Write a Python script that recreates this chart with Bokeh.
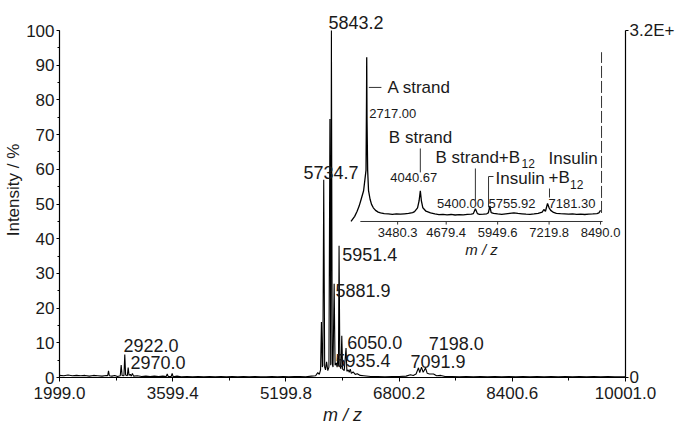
from bokeh.plotting import figure
from bokeh.models import (Range1d, LinearAxis, FixedTicker, SingleIntervalTicker,
                          PrintfTickFormatter, ColumnDataSource)
from bokeh.core.properties import value
from bokeh.embed import file_html
from bokeh.resources import INLINE

# ---------------- data ----------------
# main spectrum (m/z, intensity %)
main_mz = [1999, 2060, 2120, 2180, 2240, 2300, 2360, 2420, 2480, 2540, 2600, 2660, 2680,
           2692, 2704, 2740, 2780, 2820, 2858, 2871, 2884, 2910, 2922, 2934, 2958, 2970,
           2982, 3000, 3014, 3030, 3046, 3100, 3160, 3220, 3280, 3340, 3400, 3460, 3508,
           3522, 3536, 3578, 3592, 3606, 3660, 3720, 3800, 3880, 3960, 4040, 4120, 4200,
           4280, 4360, 4440, 4520, 4600, 4680, 4760, 4840, 4920, 5000, 5080, 5160, 5240,
           5320, 5400, 5480, 5560, 5620, 5650, 5672, 5690, 5702, 5714, 5722, 5734.7, 5748,
           5760, 5775, 5792, 5808, 5822, 5833, 5843.2, 5855, 5866, 5881.9, 5895, 5912, 5924,
           5935.4, 5943, 5951.4, 5963, 5978, 5990, 6002, 6025, 6050, 6062, 6080, 6095, 6110,
           6125, 6150, 6180, 6210, 6250, 6300, 6400, 6500, 6600, 6700, 6800, 6900, 6960,
           7000, 7040, 7074, 7092, 7117, 7140, 7174, 7198, 7230, 7287, 7330, 7390, 7450,
           7550, 7650, 7750, 7850, 7950, 8050, 8150, 8250, 8350, 8450, 8550, 8650, 8750,
           8850, 8950, 9050, 9150, 9250, 9350, 9450, 9550, 9650, 9750, 9850, 10001]
main_int = [0.6, 0.5, 0.7, 0.5, 0.6, 0.5, 0.6, 0.4, 0.6, 0.5, 0.4, 0.6, 0.5,
            1.9, 0.5, 0.4, 0.6, 0.3, 0.5, 3.6, 0.6, 0.5, 6.6, 0.7, 0.5, 2.9,
            0.6, 0.9, 0.4, 1.2, 0.4, 0.5, 0.3, 0.4, 0.3, 0.4, 0.3, 0.4, 0.3,
            1.0, 0.3, 0.3, 1.2, 0.2, 0.4, 0.2, 0.3, 0.2, 0.3, 0.2, 0.3, 0.2,
            0.3, 0.2, 0.3, 0.2, 0.3, 0.2, 0.3, 0.2, 0.2, 0.3, 0.2, 0.3, 0.2,
            0.3, 0.3, 0.2, 0.4, 0.5, 1.4, 0.9, 2.2, 16, 3.0, 3.5, 57, 3.0,
            2.2, 4.5, 2.0, 3.0, 74.5, 3.5, 100, 4.0, 3.0, 27, 3.5, 4.2, 3.0,
            5.6, 3.5, 38, 3.2, 2.5, 12, 2.4, 2.0, 8.5, 1.8, 2.2, 1.5, 2.4,
            1.2, 1.6, 0.9, 1.1, 0.6, 0.5, 0.3, 0.3, 0.2, 0.3, 0.3, 0.4, 0.8,
            0.6, 1.0, 2.8, 1.4, 3.0, 1.5, 2.7, 1.2, 1.0, 1.0, 0.5, 0.6, 0.3,
            0.3, 0.2, 0.3, 0.2, 0.3, 0.2, 0.3, 0.2, 0.3, 0.2, 0.3, 0.2, 0.3,
            0.2, 0.3, 0.2, 0.3, 0.2, 0.3, 0.2, 0.3, 0.2, 0.3, 0.2, 0.2]

# main peak labels (text, anchor m/z of left edge, anchor intensity)
peak_text = ["2922.0", "2970.0", "5734.7", "5843.2", "5951.4", "5881.9",
             "6050.0", "5935.4", "7091.9", "7198.0"]
peak_mz = [2904, 3003, 5449, 5802, 5996, 5901, 6066, 5901, 6961, 7220]
peak_int = [9.1, 4.3, 59, 102.3, 35.4, 25.1, 10.2, 4.8, 4.5, 9.7]

x_ticks = [1999.0, 3599.4, 5199.8, 6800.2, 8400.6, 10001.0]
right_ticks = [0, 3.2]
right_labels = ["0", "3.2E+"]

# inset spectrum (m/z, relative intensity)
inset_mz = [2330, 2420, 2480, 2530, 2580, 2640, 2700, 2712, 2717, 2724, 2740, 2762, 2800,
            2836, 2880, 2935, 3000, 3058, 3150, 3250, 3350, 3450, 3550, 3650, 3750, 3850,
            3898, 3972, 4010, 4040.67, 4067, 4103, 4180, 4292, 4400, 4500, 4600, 4700,
            4800, 4900, 5000, 5100, 5200, 5300, 5350, 5400, 5450, 5500, 5600, 5680, 5720,
            5755.92, 5790, 5850, 5950, 6050, 6150, 6250, 6350, 6450, 6550, 6650, 6750,
            6850, 6950, 7050, 7090, 7130, 7181.3, 7220, 7260, 7330, 7400, 7500, 7600, 7700,
            7800, 7900, 8000, 8100, 8200, 8300, 8400, 8450, 8490]
inset_int = [0, 3, 6, 9, 13, 18, 30, 70, 96, 60, 30, 18, 13,
             10, 8, 6.5, 5.5, 5, 4.6, 4.4, 4.2, 4.4, 4.3, 4.5, 4.7, 5.2,
             5.8, 8, 12, 18, 12, 8, 6, 5, 4.4, 4.0, 4.2, 3.9,
             4.1, 3.8, 4.0, 3.9, 4.2, 4.3, 4.6, 7.5, 4.6, 4.2, 4.3, 4.5, 5.0,
             9, 5.2, 4.8, 4.4, 4.2, 4.5, 4.8, 5.0, 4.7, 4.5, 4.3, 4.2,
             4.4, 4.8, 5.5, 7.0, 6.0, 10.5, 8.0, 6.5, 5.3, 4.8, 4.6, 4.5, 4.3,
             4.4, 4.2, 4.3, 4.1, 4.3, 4.4, 4.6, 5.0, 6.5]

inset_ticks = [3480.3, 4679.4, 5949.6, 7219.8, 8490.0]
inset_tick_labels = ["3480.3", "4679.4", "5949.6", "7219.8", "8490.0"]
inset_axis_span = [2560, 8540]
inset_edge_mz = 8515
inset_edge_span = [5, 99]

# inset annotations
ann_text = ["A strand", "B strand", "B strand+B", "Insulin", "Insulin", "+B"]
ann_mz = [3231, 4045, 4416, 5897, 7206, 7206]
ann_int = [78.4, 49.1, 37.6, 25.1, 36.8, 25.7]
ann_align = ["left", "center", "left", "left", "left", "left"]

sub_text = ["12", "12"]
sub_mz = [6539, 7737]
sub_int = [33.9, 21.6]

num_text = ["2717.00", "4040.67", "5400.00", "5755.92", "7181.30"]
num_mz = [2780, 3880, 5033, 5725, 7786]
num_int = [63.2, 25.7, 10.4, 10.5, 10.5]
num_align = ["left", "center", "center", "left", "center"]

# leader lines (x0, y0, x1, y1) in inset units
lead_x0 = [2770, 4040.67, 5400, 5725, 5725, 7230]
lead_y0 = [78.4, 42.7, 31.0, 26.3, 26.3, 19.3]
lead_x1 = [3080, 4040.67, 5400, 5725, 5848, 7230]
lead_y1 = [78.4, 28.7, 12.3, 8.2, 26.3, 14.0]

# ---------------- layout ----------------
FONT = "Liberation Sans"
W, H = 680, 428
FL, FR, FT, FB = 59, 625, 2, 377          # intended frame edges (px)
Y100 = 30                                  # px where intensity 100 sits
px_per_unit = (FB - Y100) / 100.0
y_end = (FB - FT) / px_per_unit

# inset placement expressed in main-chart coordinates
# inset m/z 8490 sits at main m/z IXA, one inset unit = RX main units
IXA, RX = 9648.0, 0.5726
# inset intensity 0 sits at main intensity IYA, one inset unit = RY main units
IYA, RY = 44.96, 0.4928
ix_start = 8490 + (1999 - IXA) / RX
ix_end = 8490 + (10001 - IXA) / RX
iy_start = (0 - IYA) / RY
iy_end = (y_end - IYA) / RY

p = figure(width=W, height=H, x_range=Range1d(1999, 10001), y_range=Range1d(0, y_end),
           output_backend="svg", toolbar_location=None, x_axis_type=None, y_axis_type=None,
           min_border_left=FL, min_border_right=W - FR, min_border_top=FT,
           min_border_bottom=H - FB)
p.outline_line_color = None
p.background_fill_color = "white"
p.border_fill_color = "white"
p.extra_y_ranges = {"r": Range1d(0, 3.2 * y_end / 100.0), "iy": Range1d(iy_start, iy_end)}
p.extra_x_ranges = {"ix": Range1d(ix_start, ix_end)}

TXT = "#1a1a1a"

def style_axis(ax, size="17px"):
    ax.axis_line_color = "black"
    ax.axis_line_width = 1.2
    ax.major_tick_line_color = "black"
    ax.minor_tick_line_color = "black"
    ax.major_label_text_font = FONT
    ax.major_label_text_font_size = size
    ax.major_label_text_color = TXT
    ax.axis_label_text_font = FONT
    ax.axis_label_text_color = TXT

minor_x = [(a + b) / 2 for a, b in zip(x_ticks[:-1], x_ticks[1:])]
xaxis = LinearAxis(ticker=FixedTicker(ticks=x_ticks, minor_ticks=minor_x),
                   formatter=PrintfTickFormatter(format="%.1f"), axis_label="m / z")
style_axis(xaxis)
xaxis.major_tick_out = 4
xaxis.major_tick_in = 0
xaxis.minor_tick_out = 3
xaxis.minor_tick_in = 0
xaxis.major_label_standoff = 5
xaxis.axis_label_standoff = 3
xaxis.axis_label_text_font_size = "18px"
xaxis.axis_label_text_font_style = "italic"
p.add_layout(xaxis, "below")

yaxis = LinearAxis(ticker=SingleIntervalTicker(interval=10, num_minor_ticks=2),
                   bounds=(0, 100), axis_label="Intensity / %")
style_axis(yaxis)
yaxis.major_tick_out = 3
yaxis.major_tick_in = 0
yaxis.minor_tick_out = 2
yaxis.minor_tick_in = 0
yaxis.major_label_standoff = 2
yaxis.axis_label_standoff = 0
yaxis.axis_label_text_font_size = "17px"
yaxis.axis_label_text_font_style = "normal"
p.add_layout(yaxis, "left")

raxis = LinearAxis(y_range_name="r", ticker=FixedTicker(ticks=right_ticks),
                   bounds=(0, 3.2),
                   major_label_overrides=dict(zip(right_ticks, right_labels)))
style_axis(raxis)
raxis.major_tick_out = 3
raxis.major_tick_in = 0
raxis.minor_tick_line_color = None
raxis.major_label_standoff = 1
p.add_layout(raxis, "right")

# main spectrum
p.line(main_mz, main_int, line_color="black", line_width=1.1)

psrc = ColumnDataSource(dict(x=peak_mz, y=peak_int, t=peak_text))
p.text("x", "y", text="t", source=psrc, text_font=value(FONT), text_font_size="18px",
       text_align="left", text_baseline="middle", text_color=TXT)

# ---------------- inset ----------------
IR = dict(x_range_name="ix", y_range_name="iy")
p.line(inset_mz, inset_int, line_color="black", line_width=1.3, **IR)
p.segment(x0=[inset_axis_span[0]], y0=[0], x1=[inset_axis_span[1]], y1=[0],
          line_color="#333333", line_width=1, **IR)
p.segment(x0=inset_ticks, y0=[0] * len(inset_ticks), x1=inset_ticks,
          y1=[-1.8] * len(inset_ticks), line_color="#333333", line_width=1, **IR)
p.segment(x0=[inset_edge_mz], y0=[inset_edge_span[0]], x1=[inset_edge_mz],
          y1=[inset_edge_span[1]], line_color="#333333", line_width=1,
          line_dash="12 3", **IR)
p.segment(x0=lead_x0, y0=lead_y0, x1=lead_x1, y1=lead_y1, line_color="#333333",
          line_width=1, **IR)

itsrc = ColumnDataSource(dict(x=inset_ticks, y=[-6.4] * len(inset_ticks), t=inset_tick_labels))
p.text("x", "y", text="t", source=itsrc, text_font=value(FONT), text_font_size="13px",
       text_align="center", text_baseline="middle", text_color=TXT, **IR)
p.text(x=[5552], y=[-16.4], text=["m / z"], text_font=value(FONT), text_font_size="15px",
       text_font_style="italic", text_align="center", text_baseline="middle",
       text_color=TXT, **IR)

asrc = ColumnDataSource(dict(x=ann_mz, y=ann_int, t=ann_text, a=ann_align))
p.text("x", "y", text="t", source=asrc, text_font=value(FONT), text_font_size="17px",
       text_align="a", text_baseline="middle", text_color=TXT, **IR)
ssrc = ColumnDataSource(dict(x=sub_mz, y=sub_int, t=sub_text))
p.text("x", "y", text="t", source=ssrc, text_font=value(FONT), text_font_size="12px",
       text_align="left", text_baseline="middle", text_color=TXT, **IR)
nsrc = ColumnDataSource(dict(x=num_mz, y=num_int, t=num_text, a=num_align))
p.text("x", "y", text="t", source=nsrc, text_font=value(FONT), text_font_size="13px",
       text_align="a", text_baseline="middle", text_color=TXT, **IR)

open("out.html", "w").write(file_html(p, INLINE))
